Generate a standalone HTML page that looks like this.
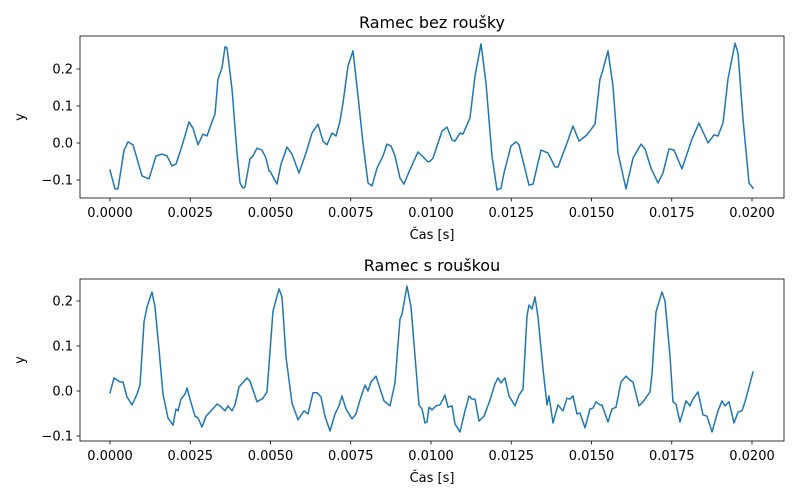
<!DOCTYPE html>
<html><head><meta charset="utf-8">
<style>
html,body{margin:0;padding:0;background:#fff;}
svg{display:block;font-family:"DejaVu Sans","Liberation Sans",sans-serif;}
</style></head>
<body>
<svg id="fig" width="800" height="500" viewBox="0 0 800 500" xmlns="http://www.w3.org/2000/svg"></svg>
<script>
const fs = 16050;
const xTicks = [0, 0.0025, 0.005, 0.0075, 0.01, 0.0125, 0.015, 0.0175, 0.02];
const xTickLabels = ["0.0000","0.0025","0.0050","0.0075","0.0100","0.0125","0.0150","0.0175","0.0200"];
const yTicksTop = [-0.1, 0.0, 0.1, 0.2];
const yTickLabelsTop = ["−0.1","0.0","0.1","0.2"];
const yTicksBottom = [-0.1, 0.0, 0.1, 0.2];
const yTickLabelsBottom = ["−0.1","0.0","0.1","0.2"];
const topSamples = [0,2.5,4,7,9,11.5,16,19.5,23,26,28.5,31,33,36,39.5,41.5,44,46.5,48.5,51,52.5,54,56,57.5,58.5,61,63.5,65,66.5,67.5,70,71.5,73.5,76,78,79.5,
80,83.5,85.5,88.5,91,94.5,98,101,104,106.5,108.5,111,113,115,116.5,119,121.5,124,126.5,129,131,133.5,136.5,138.5,140.5,142.5,145,147,149.5,154,159,
160,161.5,166,168.5,171,172.5,175,176.5,178,180,182.5,185.5,188,191,193.5,195.5,197,200.5,203,204.5,207.5,209.5,211.5,215.5,219,222.5,224,228.5,231.5,234.5,238.5,242.5,245,
246,249,251.5,254,258,261.5,265.5,267.5,270.5,274,276.5,279.5,282,286,291,294.5,299,302,304,306.5,309,312.5,314,316.5,319.5,321.5];
const topValues = [-0.073,-0.124,-0.124,-0.02,0.003,-0.005,-0.089,-0.097,-0.035,-0.03,-0.035,-0.062,-0.057,-0.008,0.057,0.04,-0.005,0.024,0.019,0.057,0.078,0.173,0.203,0.26,0.257,0.146,-0.027,-0.108,-0.122,-0.119,-0.043,-0.035,-0.014,-0.019,-0.041,-0.076,
-0.076,-0.111,-0.057,-0.011,-0.03,-0.081,-0.027,0.027,0.051,0.005,-0.005,0.027,0.019,0.059,0.108,0.208,0.249,0.127,0,-0.108,-0.116,-0.068,-0.035,-0.003,-0.008,-0.035,-0.095,-0.111,-0.078,-0.024,-0.051,
-0.049,-0.041,0.032,0.043,0.008,0.005,0.027,0.024,0.043,0.068,0.181,0.268,0.162,-0.035,-0.127,-0.122,-0.081,-0.008,0.003,-0.005,-0.07,-0.114,-0.111,-0.019,-0.027,-0.065,-0.065,0,0.046,0.005,0.022,0.051,0.173,
0.189,0.249,0.154,-0.027,-0.124,-0.041,-0.003,-0.016,-0.068,-0.108,-0.081,-0.016,-0.019,-0.07,0.011,0.054,0.0,0.022,0.019,0.054,0.173,0.27,0.243,0.065,-0.108,-0.122];
const bottomSamples = [0,2,5,6.5,8.5,11,13.5,15,17,18.5,21,22.5,24.5,26.5,29,31.5,33,34,35.5,37.5,38.5,40,42.5,44,46,48,51,53.5,55,57.5,59,61,62.5,64.5,68.5,70,73.5,76.5,78.5,
79,81.5,84.5,86,88,91,94,97,99,101.5,103.5,105.5,107.5,110,112.5,114.5,116,118,121,123,125,127.5,129,130.5,133,137,140,142.5,145,146,148.5,150.5,152.5,154.5,156,157.5,158.5,159.5,161,
163,165,167.5,169,171,172.5,175,177.5,179.5,181,182.5,184.5,187,190,192.5,194,195.5,197.5,199.5,202.5,204.5,206.5,208.5,209.5,211,212.5,214,216.5,218.5,219.5,221.5,224,226.5,228.5,230,231.5,233.5,235,237.5,240,241.5,243,
245,246,249,251,253,255.5,258,260,261.5,264.5,266.5,270,271,273,276,277.5,280,281.5,283,285,288,290,291.5,294,296.5,298.5,301,304,306,307.5,309.5,312,314,316,317.5,321.5];
const bottomValues = [-0.004,0.029,0.02,0.02,-0.013,-0.031,-0.007,0.013,0.153,0.187,0.22,0.187,0.093,-0.007,-0.06,-0.076,-0.04,-0.044,-0.018,-0.007,0.007,-0.018,-0.056,-0.06,-0.08,-0.056,-0.042,-0.029,-0.033,-0.044,-0.033,-0.044,-0.031,0.009,0.029,0.022,-0.024,-0.016,-0.002,
0.027,0.178,0.227,0.209,0.076,-0.027,-0.064,-0.044,-0.051,-0.004,-0.004,-0.013,-0.056,-0.089,-0.051,-0.033,-0.011,-0.04,-0.062,-0.051,-0.02,0.013,0,0.02,0.033,-0.022,-0.033,0.018,0.16,0.171,0.233,0.187,0.078,-0.031,-0.04,-0.071,-0.069,-0.036,-0.042,
-0.033,-0.031,-0.009,-0.036,-0.033,-0.073,-0.091,-0.044,-0.011,-0.018,-0.018,-0.067,-0.056,-0.02,0.016,0.029,0.018,0.029,-0.011,-0.033,-0.009,0.004,0.167,0.191,0.182,0.209,0.164,0.049,-0.031,-0.011,-0.071,-0.031,-0.044,-0.016,-0.018,-0.011,-0.051,-0.049,-0.082,-0.04,-0.038,-0.024,
-0.031,-0.031,-0.069,-0.04,-0.036,0.02,0.033,0.024,0.02,-0.033,-0.024,-0.002,0.038,0.176,0.22,0.2,0.078,-0.024,-0.029,-0.069,-0.022,-0.033,-0.018,-0.002,-0.053,-0.056,-0.091,-0.044,-0.022,-0.033,-0.024,-0.071,-0.047,-0.044,-0.024,0.042];

const NS = "http://www.w3.org/2000/svg";
const svg = document.getElementById('fig');
function mk(tag, attrs, parent){ const e=document.createElementNS(NS,tag); for(const k in attrs) e.setAttribute(k,attrs[k]); (parent||svg).appendChild(e); return e; }

function drawPanel(cfg){
  const g = mk('g',{});
  
  
  const L=80,R=784,T=cfg.top,B=cfg.bottom;
  const xs = t => 110 + t/0.0025*80.25;
  const ys = v => cfg.y0 - v*cfg.pxPerUnit;
  const pts = cfg.samples.map((n,i)=>xs(n/fs).toFixed(2)+","+ys(cfg.values[i]).toFixed(2)).join(" ");
  const line = mk('polyline',{points:pts,fill:'none',stroke:'#1f77b4','stroke-width':1.5,'stroke-linejoin':'round','stroke-linecap':'square'},g);
  
  
  const frame = mk('rect',{x:L,y:T,width:R-L,height:B-T,fill:'none',stroke:'#000','stroke-width':0.8},g);
  
  
  xTicks.forEach((t,i)=>{
    const x=xs(t);
    mk('line',{x1:x,x2:x,y1:B,y2:B+3.5,stroke:'#000','stroke-width':0.8},g);
    const tx=mk('text',{x:x,y:B+19,'font-size':'13px','text-anchor':'middle',fill:'#000'},g);
    tx.textContent=xTickLabels[i];
    
    
  });
  cfg.yTicks.forEach((v,i)=>{
    const y=ys(v);
    mk('line',{x1:L-3.5,x2:L,y1:y,y2:y,stroke:'#000','stroke-width':0.8},g);
    const tx=mk('text',{x:L-7,y:y+4.5,'font-size':'13px','text-anchor':'end',fill:'#000'},g);
    tx.textContent=cfg.yLabels[i];
    
    
  });
  const title=mk('text',{x:(L+R)/2,y:T-8,'font-size':'16px','text-anchor':'middle',fill:'#000'},g);
  title.textContent=cfg.title;
  
  
  const xl=mk('text',{x:(L+R)/2,y:B+41,'font-size':'13px','text-anchor':'middle',fill:'#000'},g);
  xl.textContent='Čas [s]';
  
  
  const cy=(T+B)/2;
  const yl=mk('text',{x:24,y:cy,'font-size':'13px','text-anchor':'middle',fill:'#000',transform:`rotate(-90 24 ${cy})`},g);
  yl.textContent='y';
  
  
}
drawPanel({name:'top-panel',title:'Ramec bez roušky',top:36,bottom:198,y0:143,pxPerUnit:370,samples:topSamples,values:topValues,yTicks:yTicksTop,yLabels:yTickLabelsTop});
drawPanel({name:'bottom-panel',title:'Ramec s rouškou',top:279,bottom:441,y0:391,pxPerUnit:450,samples:bottomSamples,values:bottomValues,yTicks:yTicksBottom,yLabels:yTickLabelsBottom});
</script>
</body></html>
